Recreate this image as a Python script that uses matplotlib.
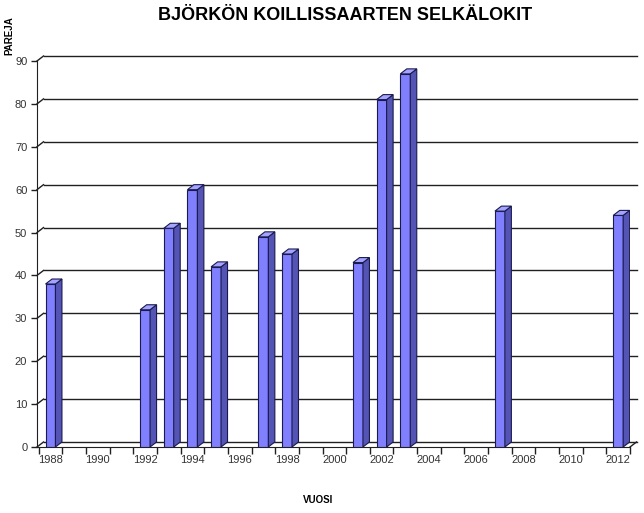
import matplotlib.pyplot as plt
from matplotlib.patches import Polygon

plt.rcParams["font.family"] = ["Liberation Sans", "DejaVu Sans"]

# data
years = [1988, 1992, 1993, 1994, 1995, 1997, 1998, 2001, 2002, 2003, 2007, 2012]
pairs = [38, 32, 51, 60, 42, 49, 45, 43, 81, 87, 55, 54]
y_ticks = list(range(0, 91, 10))
x_labels = list(range(1988, 2013, 2))

FRONT = "#8080ff"
SIDE = "#5454b4"
TOP = "#a4a4ff"
EDGE = "#1a1a50"
GRID = "#202020"

W, H = 644, 513
fig = plt.figure(figsize=(W / 100, H / 100), dpi=100)
ax = fig.add_axes([37 / W, 66 / H, 593 / W, 386 / H])

x0, x1 = 1987.43, 2012.5
ax.set_xlim(x0, x1)
ax.set_ylim(0, 90)

# 3d depth in data units
dx = 6.5 / (593 / (x1 - x0))
dy = 5.0 / (386 / 90)

# back wall gridlines + side wall diagonals
for v in y_ticks:
    ax.plot([x0 + dx, x1 + dx], [v + dy, v + dy], color=GRID, lw=1.0,
            clip_on=False, zorder=1)
    ax.plot([x0, x0 + dx], [v, v + dy], color=GRID, lw=1.0, clip_on=False, zorder=1)
ax.plot([x1, x1 + dx], [0, dy], color=GRID, lw=1.0, clip_on=False, zorder=1)

# bars
bw = 0.42
bars = ax.bar(years, pairs, width=bw, color=FRONT, edgecolor=EDGE, lw=0.8, zorder=3)
for b in bars:
    xl, yb = b.get_x(), b.get_y()
    xr, yt = xl + b.get_width(), yb + b.get_height()
    side = [(xr, yb), (xr + dx, yb + dy), (xr + dx, yt + dy), (xr, yt)]
    top = [(xl, yt), (xr, yt), (xr + dx, yt + dy), (xl + dx, yt + dy)]
    ax.add_patch(Polygon(side, closed=True, fc=SIDE, ec=EDGE, lw=0.8, zorder=3))
    ax.add_patch(Polygon(top, closed=True, fc=TOP, ec=EDGE, lw=0.8, zorder=3))

# axes
for s in ["top", "right"]:
    ax.spines[s].set_visible(False)
ax.spines["left"].set_color(GRID)
ax.spines["bottom"].set_color(GRID)
ax.set_yticks(y_ticks)
ax.set_xticks(x_labels)
ax.set_xticks([y + 0.5 for y in range(1987, 2013)], minor=True)
ax.tick_params(axis="y", direction="out", length=4, width=1, pad=3,
               labelsize=8, colors=GRID, labelcolor="#333333")
ax.tick_params(axis="x", which="major", length=0, pad=6, labelsize=8,
               labelcolor="#333333")
ax.tick_params(axis="x", which="minor", direction="out", length=5, width=1,
               colors=GRID)
ax.set_facecolor("none")

fig.text(345 / W, 1 - 16 / H, "BJÖRKÖN KOILLISSAARTEN SELKÄLOKIT",
         ha="center", va="center", fontsize=13, weight="bold")
fig.text(9 / W, 1 - 36 / H, "PAREJA", rotation=90, ha="center", va="center",
         fontsize=7, weight="bold")
fig.text(318 / W, 1 - 500 / H, "VUOSI", ha="center", va="center",
         fontsize=7, weight="bold")

fig.savefig("out.png", dpi=100)
